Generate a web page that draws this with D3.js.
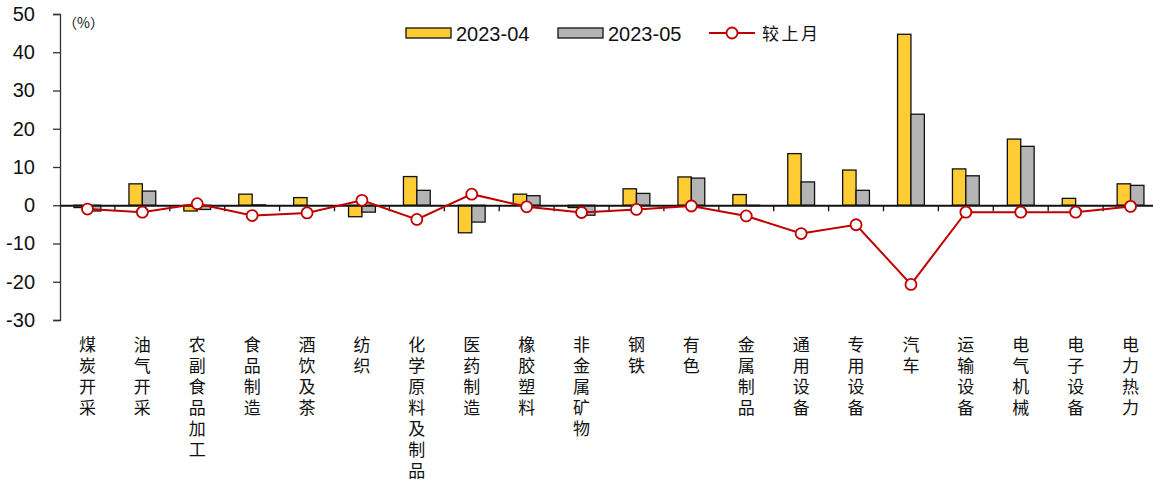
<!DOCTYPE html>
<html>
<head>
<meta charset="utf-8">
<script src="https://cdn.jsdelivr.net/npm/d3@7"></script>
<style>
  body { margin: 0; background: #fff; }
  svg { display: block; }
</style>
</head>
<body>
<div id="chart"></div>
<script>
// categories and values (%)
var categories = ["煤炭开采", "油气开采", "农副食品加工", "食品制造", "酒饮及茶", "纺织",
  "化学原料及制品", "医药制造", "橡胶塑料", "非金属矿物", "钢铁", "有色", "金属制品",
  "通用设备", "专用设备", "汽车", "运输设备", "电气机械", "电子设备", "电力热力"];
var apr = [-0.6, 5.6, -1.5, 2.9, 2.0, -3.0, 7.5, -7.2, 2.9, -0.6, 4.3, 7.4, 2.8,
  13.5, 9.2, 44.7, 9.5, 17.3, 1.8, 5.6];
var may = [-1.5, 3.7, -1.1, 0.1, 0.0, -1.8, 3.9, -4.4, 2.5, -2.6, 3.1, 7.1, -0.1,
  6.1, 3.9, 23.8, 7.7, 15.4, 0.0, 5.2];
var change = [-1.0, -1.8, 0.4, -2.7, -2.0, 1.3, -3.7, 2.9, -0.4, -1.9, -1.1, -0.2, -2.8,
  -7.4, -5.1, -20.7, -1.8, -1.8, -1.8, -0.3];
var yTicks = [50, 40, 30, 20, 10, 0, -10, -20, -30];
var seriesNames = ["2023-04", "2023-05", "较上月"];

var width = 1153, height = 482;
var yellow = "#FFCC33", grey = "#B4B4B4", red = "#C00000";
var cjk = "'Noto Sans CJK SC', sans-serif";
var latin = "'Liberation Sans', Arial, sans-serif";

var svg = d3.select("#chart").append("svg")
  .attr("width", width)
  .attr("height", height);

var x = d3.scaleBand()
  .domain(d3.range(categories.length))
  .range([60, 1158]);

var y = d3.scaleLinear()
  .domain([-30, 50])
  .range([320, 14]);

var barW = 13.4;

// bars
var groups = svg.append("g").selectAll("g")
  .data(categories)
  .enter().append("g");

groups.append("rect")
  .attr("x", function(d, i){ return x(i) + x.bandwidth() / 2 - barW; })
  .attr("y", function(d, i){ return y(Math.max(0, apr[i])); })
  .attr("width", barW)
  .attr("height", function(d, i){ return Math.abs(y(apr[i]) - y(0)); })
  .attr("fill", yellow)
  .attr("stroke", "#111")
  .attr("stroke-width", 1.3);

groups.append("rect")
  .attr("x", function(d, i){ return x(i) + x.bandwidth() / 2; })
  .attr("y", function(d, i){ return y(Math.max(0, may[i])); })
  .attr("width", barW)
  .attr("height", function(d, i){ return Math.abs(y(may[i]) - y(0)); })
  .attr("fill", grey)
  .attr("stroke", "#111")
  .attr("stroke-width", 1.3);

// y axis
var yAxis = svg.append("g")
  .attr("transform", "translate(60,0)")
  .call(d3.axisLeft(y).tickValues(yTicks).tickSize(7).tickPadding(18)
    .tickFormat(function(d){ return String(d); }));
yAxis.select(".domain").attr("stroke", "#333").attr("stroke-width", 1.3);
yAxis.selectAll(".tick line").attr("stroke", "#333").attr("stroke-width", 1.3);
yAxis.selectAll(".tick text")
  .attr("font-family", latin)
  .attr("font-size", 20)
  .attr("fill", "#111");

// x axis at zero
var xAxis = svg.append("g")
  .attr("transform", "translate(0," + y(0) + ")")
  .call(d3.axisBottom(x).tickSize(0).tickFormat(""));
xAxis.select(".domain").attr("stroke", "#111").attr("stroke-width", 2);
xAxis.selectAll(".tick").remove();

// boundary ticks between categories
svg.append("g").selectAll("line")
  .data(d3.range(1, categories.length))
  .enter().append("line")
  .attr("x1", function(i){ return x(i); })
  .attr("x2", function(i){ return x(i); })
  .attr("y1", y(0))
  .attr("y2", y(0) + 6)
  .attr("stroke", "#111")
  .attr("stroke-width", 1.3);

// category labels, one character per line
var labels = svg.append("g").selectAll("text")
  .data(categories)
  .enter().append("text")
  .attr("font-family", "'Liberation Sans', 'Noto Sans CJK SC', sans-serif")
  .attr("font-size", 17)
  .attr("fill", "#111")
  .attr("text-anchor", "middle");

labels.each(function(d, i){
  var t = d3.select(this);
  d.split("").forEach(function(ch, k){
    t.append("tspan")
      .attr("x", x(i) + x.bandwidth() / 2)
      .attr("y", 351 + k * 21)
      .text(ch);
  });
});

// change line
var line = d3.line()
  .x(function(d, i){ return x(i) + x.bandwidth() / 2; })
  .y(function(d){ return y(d); });

svg.append("path")
  .datum(change)
  .attr("d", line)
  .attr("fill", "none")
  .attr("stroke", red)
  .attr("stroke-width", 2);

svg.append("g").selectAll("circle")
  .data(change)
  .enter().append("circle")
  .attr("cx", function(d, i){ return x(i) + x.bandwidth() / 2; })
  .attr("cy", function(d){ return y(d); })
  .attr("r", 5.5)
  .attr("fill", "#fff")
  .attr("stroke", red)
  .attr("stroke-width", 1.8);

// unit
svg.append("text")
  .attr("x", 63)
  .attr("y", 28)
  .attr("font-family", cjk)
  .attr("font-size", 14)
  .attr("fill", "#111")
  .text("（%）");

// legend
var legend = svg.append("g");
legend.append("rect").attr("x", 406).attr("y", 28).attr("width", 45).attr("height", 10)
  .attr("fill", yellow).attr("stroke", "#111").attr("stroke-width", 1.3);
legend.append("text").attr("x", 456).attr("y", 41).attr("font-family", latin)
  .attr("font-size", 20).attr("fill", "#111").text(seriesNames[0]);
legend.append("rect").attr("x", 558).attr("y", 28).attr("width", 45).attr("height", 10)
  .attr("fill", grey).attr("stroke", "#111").attr("stroke-width", 1.3);
legend.append("text").attr("x", 608).attr("y", 41).attr("font-family", latin)
  .attr("font-size", 20).attr("fill", "#111").text(seriesNames[1]);
legend.append("line").attr("x1", 709).attr("x2", 755).attr("y1", 33).attr("y2", 33)
  .attr("stroke", red).attr("stroke-width", 2);
legend.append("circle").attr("cx", 732).attr("cy", 33).attr("r", 5.5)
  .attr("fill", "#fff").attr("stroke", red).attr("stroke-width", 1.8);
legend.append("text").attr("x", 762).attr("y", 40).attr("font-family", cjk)
  .attr("font-size", 17).attr("letter-spacing", 2.5).attr("fill", "#111").text(seriesNames[2]);
</script>
</body>
</html>
